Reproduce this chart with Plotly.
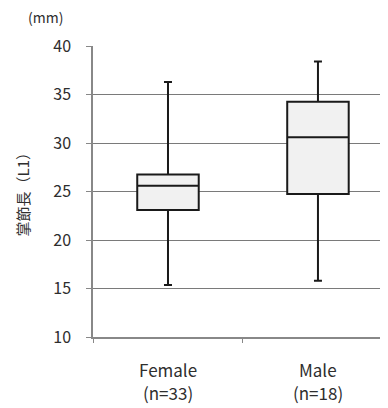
import plotly.graph_objects as go

categories = ["Female", "Male"]
sample_sizes = ["(n=33)", "(n=18)"]
lower_whisker = [15.35, 15.8]
q1 = [23.1, 24.75]
median = [25.6, 30.6]
q3 = [26.75, 34.25]
upper_whisker = [36.3, 38.4]
y_ticks = [10, 15, 20, 25, 30, 35, 40]

font_family = "Noto Sans CJK JP, Noto Sans, sans-serif"
text_color = "#2e2e2e"

fig = go.Figure()
fig.add_trace(go.Box(
    x=categories,
    q1=q1,
    median=median,
    q3=q3,
    lowerfence=lower_whisker,
    upperfence=upper_whisker,
    width=0.41,
    whiskerwidth=0.13,
    fillcolor="#f1f1f1",
    line=dict(color="#1a1a1a", width=2),
    boxpoints=False,
    hoverinfo="skip",
    showlegend=False,
))

annotations = []
for cat, n in zip(categories, sample_sizes):
    annotations.append(dict(
        text=cat, xref="x", yref="paper", x=cat, y=0, yshift=-32,
        xanchor="center", yanchor="middle", showarrow=False,
        font=dict(size=17, color=text_color),
    ))
    annotations.append(dict(
        text=n, xref="x", yref="paper", x=cat, y=0, yshift=-55,
        xanchor="center", yanchor="middle", showarrow=False,
        font=dict(size=17, color=text_color),
    ))
annotations.append(dict(
    text="掌節長（L1）", xref="paper", yref="paper", x=0, y=0.5, xshift=-71,
    xanchor="center", yanchor="middle", textangle=-90, showarrow=False,
    font=dict(size=15, color=text_color),
))
annotations.append(dict(
    text="(mm)", xref="paper", yref="paper", x=0, y=1, xshift=-48, yshift=29,
    xanchor="center", yanchor="middle", showarrow=False,
    font=dict(size=14, color=text_color),
))

fig.update_layout(
    width=380,
    height=400,
    margin=dict(l=85, r=0, t=38, b=71),
    paper_bgcolor="white",
    plot_bgcolor="white",
    font=dict(family=font_family, color=text_color, size=14),
    xaxis=dict(
        range=[-0.5, 1.467],
        showline=True,
        linecolor="#888888",
        linewidth=1.5,
        showgrid=False,
        ticks="outside",
        tickson="boundaries",
        ticklen=4,
        tickcolor="#888888",
        showticklabels=False,
        zeroline=False,
    ),
    yaxis=dict(
        range=[10, 40],
        tickvals=y_ticks,
        showline=True,
        linecolor="#888888",
        linewidth=1.5,
        showgrid=True,
        gridcolor="#7a7a7a",
        gridwidth=1.3,
        ticks="outside",
        ticklen=5,
        tickcolor="#888888",
        ticklabelstandoff=12,
        tickfont=dict(size=16, color=text_color),
        zeroline=False,
    ),
    annotations=annotations,
)

fig.write_html("out.html")
